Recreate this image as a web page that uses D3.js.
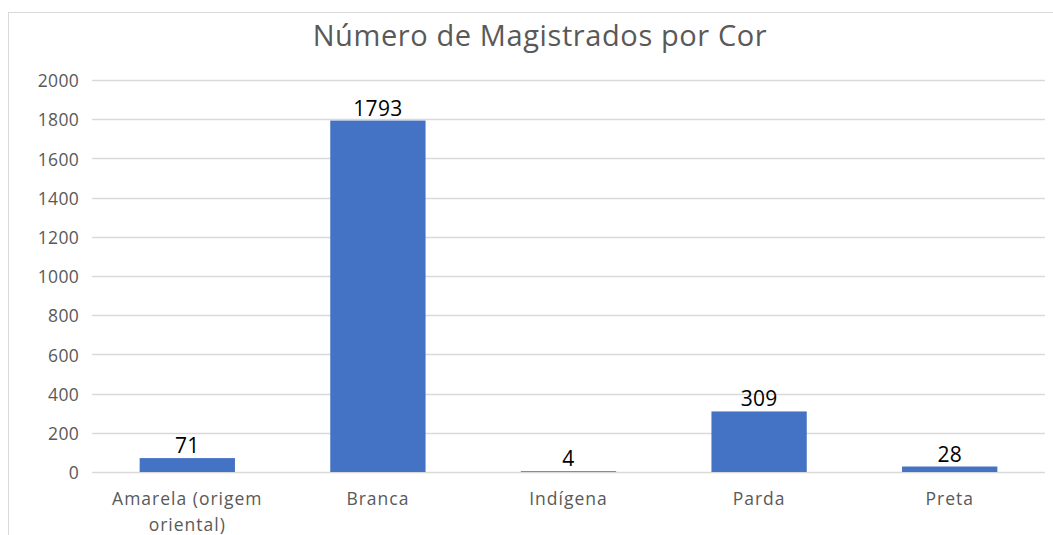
<!DOCTYPE html>
<html>
<head>
<meta charset="utf-8">
<script src="https://cdn.jsdelivr.net/npm/d3@7"></script>
<style>
  body { margin: 0; background: #fff; }
  text { font-family: "Open Sans", "Liberation Sans", sans-serif; }
</style>
</head>
<body>
<div id="chart"></div>
<script>
// DATA
const categories = ['Amarela (origem oriental)', 'Branca', 'Indígena', 'Parda', 'Preta'];
const values = [71, 1793, 4, 309, 28];
const yTicks = [0, 200, 400, 600, 800, 1000, 1200, 1400, 1600, 1800, 2000];
const title = 'Número de Magistrados por Cor';

const width = 1053;
const height = 535;
const plot = { left: 92, right: 1045, top: 80, bottom: 472 };

const svg = d3.select('#chart').append('svg')
  .attr('width', width)
  .attr('height', height);

// chart frame
svg.append('rect')
  .attr('x', 8.5)
  .attr('y', 12.5)
  .attr('width', width)
  .attr('height', height)
  .attr('fill', 'none')
  .attr('stroke', '#d9d9d9');

const x = d3.scaleBand()
  .domain(categories)
  .range([plot.left, plot.right])
  .paddingInner(0.5)
  .paddingOuter(0.25);

const y = d3.scaleLinear()
  .domain([0, 2000])
  .range([plot.bottom, plot.top]);

// gridlines
svg.append('g')
  .selectAll('line')
  .data(yTicks)
  .enter()
  .append('line')
  .attr('x1', plot.left)
  .attr('x2', plot.right)
  .attr('y1', d => Math.round(y(d)) + 0.5)
  .attr('y2', d => Math.round(y(d)) + 0.5)
  .style('stroke', '#d9d9d9')
  .style('stroke-width', 1.5);

// y tick labels
svg.append('g')
  .selectAll('text')
  .data(yTicks)
  .enter()
  .append('text')
  .attr('x', 79)
  .attr('y', d => y(d) + 1)
  .attr('dy', '0.35em')
  .style('text-anchor', 'end')
  .style('font-size', '17.5px')
  .style('letter-spacing', '0.3px')
  .style('fill', '#595959')
  .text(d => d);

// bars
svg.append('g')
  .selectAll('rect')
  .data(values)
  .enter()
  .append('rect')
  .attr('x', (d, i) => x(categories[i]))
  .attr('width', x.bandwidth())
  .attr('y', d => y(d))
  .attr('height', d => y(0) - y(d))
  .style('fill', '#4472c4');

// data labels
svg.append('g')
  .selectAll('text')
  .data(values)
  .enter()
  .append('text')
  .attr('x', (d, i) => x(categories[i]) + x.bandwidth() / 2)
  .attr('y', d => y(d) - 5)
  .style('text-anchor', 'middle')
  .style('font-size', '21px')
  .style('letter-spacing', '0.3px')
  .style('fill', '#000')
  .text(d => d);

// category labels (wrap long ones)
const catLines = categories.map(c => c.length > 12 ? ['Amarela (origem', 'oriental)'] : [c]);
const catG = svg.append('g')
  .selectAll('text')
  .data(categories)
  .enter()
  .append('text')
  .attr('x', d => x(d) + x.bandwidth() / 2)
  .attr('y', 505)
  .style('text-anchor', 'middle')
  .style('font-size', '17.5px')
  .style('letter-spacing', '1px')
  .style('fill', '#595959');

catG.each(function(d, i) {
  d3.select(this).selectAll('tspan')
    .data(catLines[i])
    .enter()
    .append('tspan')
    .attr('x', x(d) + x.bandwidth() / 2)
    .attr('dy', (l, j) => j === 0 ? 0 : 26)
    .text(l => l);
});

// title
svg.append('text')
  .attr('x', 540)
  .attr('y', 46)
  .style('text-anchor', 'middle')
  .style('font-size', '29px')
  .style('letter-spacing', '0.6px')
  .style('fill', '#595959')
  .text(title);
</script>
</body>
</html>
